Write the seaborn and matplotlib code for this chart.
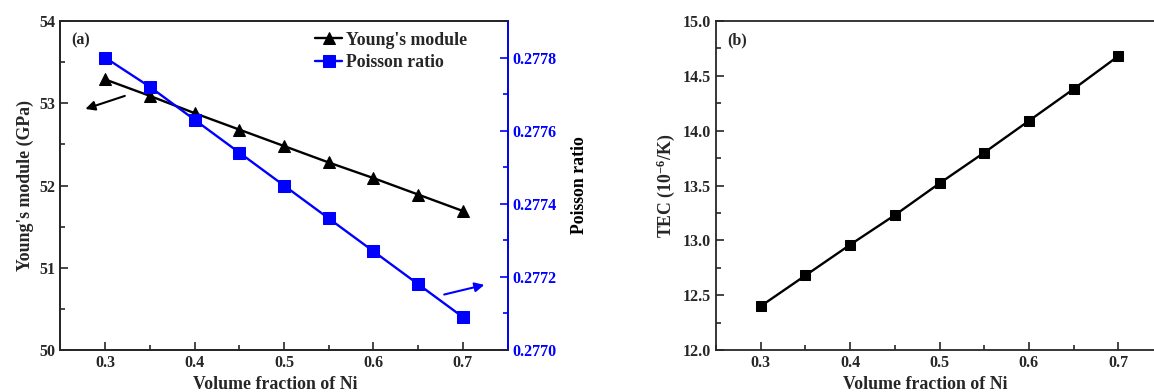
import numpy as np
import pandas as pd
import matplotlib
matplotlib.use("Agg")
import matplotlib.pyplot as plt
import seaborn as sns
from matplotlib.ticker import MultipleLocator

# ---- data ----
vol_frac = [0.30, 0.35, 0.40, 0.45, 0.50, 0.55, 0.60, 0.65, 0.70]
youngs = [53.29, 53.09, 52.88, 52.68, 52.48, 52.28, 52.09, 51.89, 51.69]
poisson = [0.27780, 0.27772, 0.27763, 0.27754, 0.27745, 0.27736, 0.27727, 0.27718, 0.27709]
tec = [12.40, 12.68, 12.96, 13.23, 13.52, 13.80, 14.09, 14.38, 14.68]

sns.set_theme(style="ticks")
plt.rcParams['font.family'] = ['Liberation Serif', 'DejaVu Serif']
plt.rcParams['font.weight'] = 'bold'
plt.rcParams['axes.labelweight'] = 'bold'
plt.rcParams['mathtext.fontset'] = 'custom'
plt.rcParams['mathtext.rm'] = 'Liberation Serif:bold'
plt.rcParams['mathtext.bf'] = 'Liberation Serif:bold'
plt.rcParams['mathtext.default'] = 'bf'

fig = plt.figure(figsize=(11.54, 3.92), dpi=100)
ax1 = fig.add_axes([0.0523, 0.1071, 0.3876, 0.8393])
ax3 = fig.add_axes([0.6205, 0.1071, 0.3873, 0.8393])

df = pd.DataFrame({"x": vol_frac, "E": youngs, "nu": poisson, "tec": tec})

FS = 11.5
LFS = 12.8
# ---- panel (a) ----
sns.lineplot(data=df, x="x", y="E", ax=ax1, color="black", marker="^",
             markersize=9, markeredgecolor="black", linewidth=1.7,
             label="Young's module", legend=False)
ax2 = ax1.twinx()
sns.lineplot(data=df, x="x", y="nu", ax=ax2, color="#0000ff", marker="s",
             markersize=8, markeredgecolor="#0000ff", linewidth=1.7,
             label="Poisson ratio", legend=False)

ax1.set_xlim(0.25, 0.75)
ax1.set_ylim(50, 54)
ax2.set_ylim(0.2770, 0.2779)
ax1.xaxis.set_major_locator(MultipleLocator(0.1))
ax1.xaxis.set_minor_locator(MultipleLocator(0.05))
ax1.yaxis.set_major_locator(MultipleLocator(1))
ax1.yaxis.set_minor_locator(MultipleLocator(0.5))
ax2.yaxis.set_major_locator(MultipleLocator(0.0002))
ax2.yaxis.set_minor_locator(MultipleLocator(0.0001))
ax2.yaxis.set_major_formatter(matplotlib.ticker.FormatStrFormatter('%.4f'))

ax1.set_xlabel("Volume fraction of Ni", fontsize=LFS, fontweight='bold')
ax1.set_ylabel("Young's module (GPa)", fontsize=LFS, fontweight='bold')
ax2.set_ylabel("Poisson ratio", fontsize=LFS, fontweight='bold', color='black',
               labelpad=10)
ax1.xaxis.set_label_coords(0.48, -0.078)

for ax in (ax1, ax2):
    ax.tick_params(which='both', direction='in', labelsize=FS)
    ax.tick_params(which='major', length=6, width=1.2)
    ax.tick_params(which='minor', length=3.5, width=1.2)
ax1.tick_params(top=False, right=False, which='both')
ax2.tick_params(axis='y', which='both', colors='#0000ff')
for lab in ax2.get_yticklabels():
    lab.set_color('#0000ff')
for s in ax1.spines.values():
    s.set_linewidth(1.3)
for s in ax2.spines.values():
    s.set_linewidth(1.3)
ax2.spines['right'].set_color('#0000ff')
for lab in ax1.get_xticklabels() + ax1.get_yticklabels() + ax2.get_yticklabels():
    lab.set_fontweight('bold')

h1, l1 = ax1.get_legend_handles_labels()
h2, l2 = ax2.get_legend_handles_labels()
ax1.legend(h1 + h2, l1 + l2, loc='upper left', bbox_to_anchor=(0.57, 0.968),
           frameon=False, handlelength=1.5, handletextpad=0.2,
           borderpad=0, borderaxespad=0, labelspacing=0.3,
           prop={'weight': 'bold', 'size': LFS})

ax1.text(0.025, 0.94, "(a)", transform=ax1.transAxes, fontsize=FS, fontweight='bold',
         va='center', ha='left')

ax1.annotate("", xy=(0.275, 52.92), xytext=(0.325, 53.10),
             arrowprops=dict(arrowstyle='-|>', color='black', lw=1.5,
                             mutation_scale=14))
ax2.annotate("", xy=(0.727, 0.27718), xytext=(0.676, 0.277150),
             arrowprops=dict(arrowstyle='-|>', color='#0000ff', lw=1.5,
                             mutation_scale=14))

# ---- panel (b) ----
sns.lineplot(data=df, x="x", y="tec", ax=ax3, color="black", marker="s",
             markersize=7.5, markeredgecolor="black", linewidth=1.7, legend=False)
ax3.set_xlim(0.25, 0.75)
ax3.set_ylim(12.0, 15.0)
ax3.xaxis.set_major_locator(MultipleLocator(0.1))
ax3.xaxis.set_minor_locator(MultipleLocator(0.05))
ax3.yaxis.set_major_locator(MultipleLocator(0.5))
ax3.yaxis.set_minor_locator(MultipleLocator(0.25))
ax3.yaxis.set_major_formatter(matplotlib.ticker.FormatStrFormatter('%.1f'))
ax3.set_xlabel("Volume fraction of Ni", fontsize=LFS, fontweight='bold')
ax3.set_ylabel(r"TEC (10$^{\mathbf{-6}}$/K)", fontsize=LFS, fontweight='bold')
ax3.xaxis.set_label_coords(0.468, -0.078)
ax3.tick_params(which='both', direction='in', labelsize=FS, top=False, right=False)
ax3.tick_params(which='major', length=6, width=1.2)
ax3.tick_params(which='minor', length=3.5, width=1.2)
for s in ax3.spines.values():
    s.set_linewidth(1.3)
for lab in ax3.get_xticklabels() + ax3.get_yticklabels():
    lab.set_fontweight('bold')
ax3.text(0.025, 0.94, "(b)", transform=ax3.transAxes, fontsize=FS, fontweight='bold',
         va='center', ha='left')

fig.savefig("out.png", dpi=100)
